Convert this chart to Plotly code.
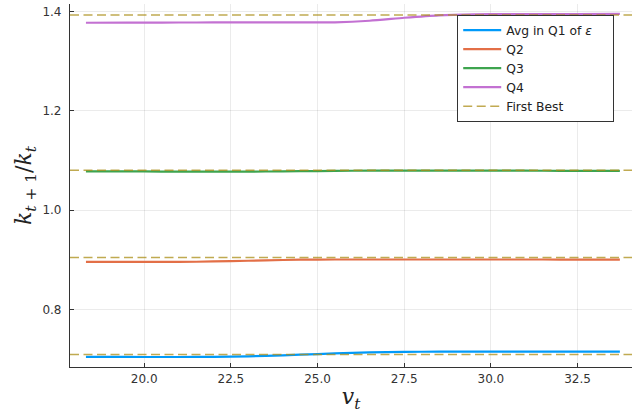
import plotly.graph_objects as go

v_grid = [18.32, 19.5, 20.5, 21.5, 22.5, 23.5, 24.5, 25.5, 26.5, 27.5, 28.5, 29.5, 30.5, 31.5, 32.5, 33.72]

q1 = [0.7048, 0.7047, 0.7046, 0.7047, 0.7052, 0.7068, 0.7092, 0.7118, 0.7140, 0.7150, 0.7153, 0.7154, 0.7154, 0.7155, 0.7155, 0.7156]
q2 = [0.8960, 0.8960, 0.8960, 0.8962, 0.8975, 0.8990, 0.9003, 0.9007, 0.9007, 0.9007, 0.9007, 0.9007, 0.9007, 0.9007, 0.9006, 0.9006]
q3 = [1.0782, 1.0780, 1.0777, 1.0775, 1.0775, 1.0778, 1.0784, 1.0790, 1.0795, 1.0797, 1.0797, 1.0796, 1.0795, 1.0793, 1.0791, 1.0790]
q4 = [1.3770, 1.3772, 1.3774, 1.3775, 1.3776, 1.3776, 1.3776, 1.3778, 1.3810, 1.3870, 1.3920, 1.3940, 1.3944, 1.3945, 1.3946, 1.3947]
first_best = [0.7094, 0.9047, 1.0805, 1.3926]

series_names = ["Avg in Q1 of <i>ε</i>\u00a0\u00a0\u00a0\u00a0", "Q2", "Q3", "Q4"]
series_colors = ["#009AFA", "#E36F47", "#3EA44E", "#C371D2"]
fb_color = "#AC8E18"

x_range = [17.86, 34.07]
y_range = [0.6845, 1.4147]
x_ticks = [20.0, 22.5, 25.0, 27.5, 30.0, 32.5]
y_ticks = [0.8, 1.0, 1.2, 1.4]

fig = go.Figure()
for name, ys, col in zip(series_names, [q1, q2, q3, q4], series_colors):
    fig.add_trace(go.Scatter(x=v_grid, y=ys, mode="lines", name=name,
                             line=dict(color=col, width=2.2, shape="spline", smoothing=0.6)))

fbx, fby = [], []
for val in first_best:
    fbx += [x_range[0], x_range[1], None]
    fby += [val, val, None]
fig.add_trace(go.Scatter(x=fbx, y=fby, mode="lines", name="First Best",
                         line=dict(color=fb_color, width=1.5, dash="9px,4.5px"), opacity=0.75))

axis_common = dict(showgrid=True, gridcolor="rgba(0,0,0,0.08)", gridwidth=0.6,
                   zeroline=False, showline=True, linecolor="#333333", linewidth=1.2,
                   ticks="inside", ticklen=4, tickcolor="#333333", automargin=False,
                   tickfont=dict(family="DejaVu Sans", size=12, color="#333333"))

fig.update_layout(
    width=634, height=419,
    margin=dict(l=70, r=2, t=4, b=52),
    paper_bgcolor="white", plot_bgcolor="white",
    showlegend=True,
    legend=dict(x=0.689, y=0.9705, xanchor="left", yanchor="top",
                bgcolor="white", bordercolor="#333333", borderwidth=1,
                font=dict(family="DejaVu Sans", size=12.3, color="#222222"),
                itemwidth=38, tracegroupgap=0),
    xaxis=dict(range=x_range, tickvals=x_ticks, tickformat=".1f",
               title=dict(text="<i>v</i><sub><i>t</i></sub>",
                          font=dict(family="DejaVu Serif", size=22, color="#222222"), standoff=4),
               **axis_common),
    yaxis=dict(range=y_range, tickvals=y_ticks, tickformat=".1f", ticklabelstandoff=5,
               title=dict(text="<i>k</i><sub><i>t</i> + 1</sub>/<i>k</i><sub><i>t</i></sub>",
                          font=dict(family="DejaVu Serif", size=22, color="#222222"), standoff=4),
               **axis_common),
)

fig.write_html("out.html", config={"displayModeBar": False},
               post_script="document.body.style.margin='0';document.body.style.padding='0';")
